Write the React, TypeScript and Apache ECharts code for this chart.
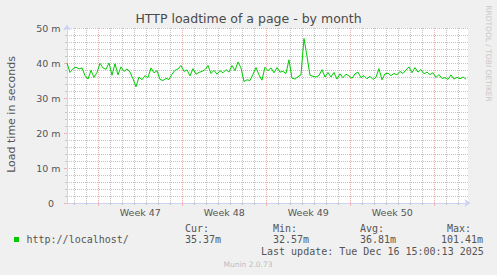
import React, { useEffect, useRef } from "react";
import * as echarts from "echarts";

const TITLE = "HTTP loadtime of a page - by month";
const Y_NAME = "Load time in seconds";
const SERIES_NAME = "http://localhost/";
const WEEK_LABELS = ["Week 47", "Week 48", "Week 49", "Week 50"];
// week starts and mid-week positions in days from Monday 17 Nov 00:00
const WEEK_STARTS = [0, 7, 14, 21, 28];
const WEEK_MIDS = [3.5, 10.5, 17.5, 24.5];
const STAT_HEADERS = ["Cur:", "Min:", "Avg:", "Max:"];
const STAT_VALUES = ["35.37m", "32.57m", "36.81m", "101.41m"];
const LAST_UPDATE = "Last update: Tue Dec 16 15:00:13 2025";
const FOOTER = "Munin 2.0.73";
const WATERMARK = "RRDTOOL / TOBI OETIKER";

// time axis in days, 0 = Monday 17 Nov 00:00 (start of week 47)
const T_START = -2.61;
const T_END = 30.81;
const STEP_DAYS = 0.25;
const Y_MIN = 0;
const Y_MAX = 50;

// load time in milliseconds, one sample every 6 hours
const LOADTIME_MS = [
  40.0, 37.3, 38.4, 38.8, 38.3, 38.6, 36.4, 35.4, 37.9, 35.9,
  37.3, 39.9, 38.6, 38.2, 40.0, 36.5, 39.8, 36.6, 38.9, 37.6,
  38.3, 37.4, 35.5, 33.2, 36.0, 35.2, 36.4, 35.8, 38.6, 37.2,
  37.8, 35.3, 35.0, 35.6, 35.3, 36.8, 37.9, 38.3, 39.3, 37.6,
  38.0, 36.3, 38.4, 36.8, 37.3, 37.6, 38.1, 39.3, 37.0, 37.9,
  36.8, 37.8, 37.2, 38.1, 37.4, 39.3, 37.8, 40.3, 38.6, 34.7,
  35.2, 35.0, 36.8, 38.7, 36.6, 35.1, 38.8, 37.8, 38.6, 37.2,
  38.7, 37.4, 37.6, 37.0, 40.9, 35.7, 35.4, 36.1, 36.6, 47.0,
  42.0, 36.5, 36.2, 36.0, 36.4, 38.1, 36.0, 37.3, 36.0, 37.3,
  35.4, 36.9, 35.8, 36.8, 36.3, 35.6, 36.9, 37.4, 35.8, 36.4,
  35.5, 36.2, 35.3, 35.9, 38.4, 35.2, 36.9, 37.1, 36.4, 37.0,
  36.6, 37.6, 37.0, 38.0, 38.9, 37.2, 38.7, 37.4, 38.1, 36.9,
  37.4, 36.7, 37.2, 35.9, 36.7, 35.6, 35.8, 35.3, 36.6, 35.4,
  35.9, 35.5, 36.0, 35.4,
];

const SANS = '"DejaVu Sans", sans-serif';
const MONO = '"DejaVu Sans Mono", monospace';
const TEXT = "#555555";
const AXIS = "#CDD3F6";
const GRID = "#C4C4C4";
const MGRID = "#F2B0B0";
const LINE = "#00CC00";
const DASH = [1, 1];

const PLOT = { left: 67, top: 28, width: 401, height: 175 };

function txt(text: string, x: number, y: number, font: string, fill: string, extra: any = {}) {
  return {
    type: "text",
    x,
    y,
    silent: true,
    ...extra,
    style: {
      text,
      font,
      fill,
      align: extra.align || "left",
      textAlign: extra.align || "left",
      verticalAlign: "middle",
      textVerticalAlign: "middle",
    },
  };
}

export default function App() {
  const ref = useRef<HTMLDivElement>(null);
  useEffect(() => {
    const chart = echarts.init(ref.current!, null, { renderer: "svg" });
    const data = LOADTIME_MS.map((v, i) => [T_START + i * STEP_DAYS, v]);
    const dayTicks: number[] = [];
    for (let d = Math.ceil(T_START); d <= Math.floor(T_END); d++) dayTicks.push(d);
    const headerX = [185, 273, 360, 447];
    const valueX = [185, 273, 360, 441];
    const graphic: any[] = [
      {
        type: "rect",
        z: -100,
        silent: true,
        shape: { x: PLOT.left, y: PLOT.top, width: PLOT.width, height: PLOT.height },
        style: { fill: "#FFFFFF" },
      },
      txt(Y_NAME, 11, 114.5, `11px ${SANS}`, TEXT, { rotation: Math.PI / 2, align: "center" }),
      txt(WATERMARK, 488.5, 53.5, `7.5px ${SANS}`, "#C8C8C8", { rotation: -Math.PI / 2, align: "center" }),
      { type: "rect", shape: { x: 14, y: 237, width: 5, height: 5 }, style: { fill: LINE }, silent: true },
      txt(SERIES_NAME, 26.5, 239.5, `10px ${MONO}`, TEXT),
      txt(LAST_UPDATE, 261, 251, `10px ${MONO}`, TEXT),
      txt(FOOTER, 248, 264, `7.5px ${SANS}`, "#BDBDBD", { align: "center" }),
    ];
    STAT_HEADERS.forEach((h, i) => graphic.push(txt(h, headerX[i], 228, `10px ${MONO}`, TEXT)));
    STAT_VALUES.forEach((v, i) => graphic.push(txt(v, valueX[i], 239.5, `10px ${MONO}`, TEXT)));

    const option: any = {
      animation: false,
      backgroundColor: "#F0F0F0",
      title: {
        text: TITLE,
        left: "center",
        top: 11.5,
        padding: 0,
        textStyle: { fontFamily: SANS, fontSize: 12.5, fontWeight: "normal", color: "#4a4a4a" },
      },
      grid: { ...PLOT, show: false },
      xAxis: [
        {
          type: "value",
          position: "bottom",
          min: T_START,
          max: T_END,
          z: 1,
          axisLine: {
            show: true,
            onZero: false,
            lineStyle: { color: AXIS, width: 1 },
            symbol: ["none", "arrow"],
            symbolSize: [6, 6],
            symbolOffset: [0, 2.5],
          },
          axisTick: { show: true, length: 2, customValues: dayTicks, lineStyle: { color: GRID } },
          axisLabel: { show: false },
          splitLine: {
            show: true,
            showMinLine: true,
            showMaxLine: true,
            lineStyle: { color: GRID, type: DASH, width: 1 },
          },
        },
        {
          type: "value",
          position: "bottom",
          min: T_START,
          max: T_END,
          z: 1,
          axisLine: { show: false, onZero: false },
          axisTick: { show: true, length: 3, customValues: WEEK_STARTS, lineStyle: { color: MGRID } },
          splitLine: {
            show: true,
            showMinLine: true,
            showMaxLine: true,
            lineStyle: { color: MGRID, type: DASH, width: 1 },
          },
          axisLabel: {
            show: true,
            margin: 4,
            customValues: WEEK_MIDS,
            fontFamily: SANS,
            fontSize: 9.5,
            color: TEXT,
            formatter: (v: number) => {
              const idx = WEEK_MIDS.findIndex((m) => Math.abs(m - v) < 1e-6);
              return idx >= 0 ? WEEK_LABELS[idx] : "";
            },
          },
        },
      ],
      yAxis: [
        {
          type: "value",
          min: Y_MIN,
          max: Y_MAX,
          interval: 10,
          z: 1,
          axisLine: {
            show: true,
            onZero: false,
            lineStyle: { color: AXIS, width: 1 },
            symbol: ["none", "arrow"],
            symbolSize: [6, 6],
            symbolOffset: [0, 3.5],
          },
          axisTick: { show: true, length: 3, lineStyle: { color: MGRID } },
          minorTick: { show: true, splitNumber: 5, length: 2, lineStyle: { color: GRID } },
          axisLabel: {
            margin: 6.5,
            fontFamily: SANS,
            fontSize: 9.5,
            color: TEXT,
            formatter: (v: number) => (v === 0 ? "{z|0}" : `${v} m`),
            rich: { z: { padding: [0, 6.5, 0, 0], fontFamily: SANS, fontSize: 9.5, color: TEXT } },
          },
          splitLine: { show: true, lineStyle: { color: MGRID, type: DASH, width: 1 } },
          minorSplitLine: { show: true, lineStyle: { color: GRID, type: DASH, width: 1 } },
        },
      ],
      series: [
        {
          name: SERIES_NAME,
          type: "line",
          xAxisIndex: 0,
          yAxisIndex: 0,
          data,
          symbol: "none",
          showSymbol: false,
          silent: true,
          lineStyle: { color: LINE, width: 1 },
          z: 5,
        },
      ],
      graphic,
    };
    chart.setOption(option);
    return () => chart.dispose();
  }, []);
  return <div ref={ref} style={{ position: "fixed", left: 0, top: 0, width: 497, height: 275 }} />;
}
